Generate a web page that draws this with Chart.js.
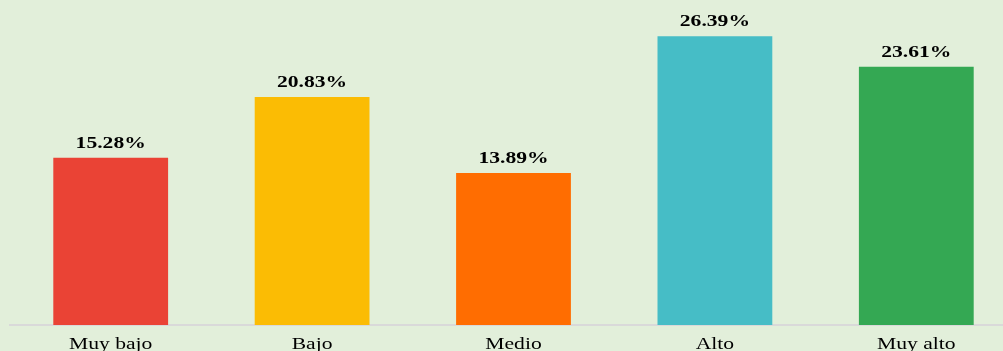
<!DOCTYPE html>
<html>
<head>
<meta charset="utf-8">
<script src="https://cdn.jsdelivr.net/npm/chart.js@4"></script>
<style>
  html, body { margin: 0; padding: 0; overflow: hidden; background: #e2efda; }
  #wrap { position: relative; width: 1017px; height: 370px; }
</style>
</head>
<body>
<div id="wrap"><canvas id="chart"></canvas></div>
<script>
const categories = ["Muy bajo", "Bajo", "Medio", "Alto", "Muy alto"];
const values = [15.28, 20.83, 13.89, 26.39, 23.61];
const valueLabels = ["15.28%", "20.83%", "13.89%", "26.39%", "23.61%"];
const barColors = ["#ea4335", "#fbbc04", "#ff6d01", "#46bdc6", "#34a853"];

// text in the original looks stretched sideways, so draw it ourselves
const stretch = 1.35;
function drawStretched(ctx, text, x, y, font) {
    ctx.save();
    ctx.font = font;
    ctx.fillStyle = "#000";
    ctx.textAlign = "center";
    ctx.textBaseline = "alphabetic";
    ctx.translate(x, y);
    ctx.scale(stretch, 1);
    ctx.fillText(text, 0, 0);
    ctx.restore();
}

const labelPlugin = {
    id: "labels",
    afterDatasetsDraw(chart) {
        const ctx = chart.ctx;
        const meta = chart.getDatasetMeta(0);
        meta.data.forEach((bar, i) => {
            drawStretched(ctx, valueLabels[i], bar.x, bar.y - 10, "bold 16px 'Liberation Serif'");
        });
        const xScale = chart.scales.x;
        categories.forEach((c, i) => {
            drawStretched(ctx, c, xScale.getPixelForValue(i), 349, "16px 'Liberation Serif'");
        });
    }
};

new Chart(document.getElementById("chart"), {
    type: "bar",
    data: {
        labels: categories,
        datasets: [{
            data: values,
            backgroundColor: barColors,
            borderWidth: 0,
            barPercentage: 0.57,
            categoryPercentage: 1
        }]
    },
    options: {
        responsive: true,
        maintainAspectRatio: false,
        animation: false,
        layout: { padding: { left: 10, right: 0, top: 0, bottom: 0 } },
        plugins: { legend: { display: false }, tooltip: { enabled: false } },
        scales: {
            x: {
                grid: { display: false },
                border: { display: true, color: "#d9d9d9", width: 2 },
                ticks: { display: false },
                afterFit: (s) => { s.height = 45; }
            },
            y: {
                display: false,
                min: 0,
                max: 29.7
            }
        }
    },
    plugins: [labelPlugin]
});
</script>
</body>
</html>
